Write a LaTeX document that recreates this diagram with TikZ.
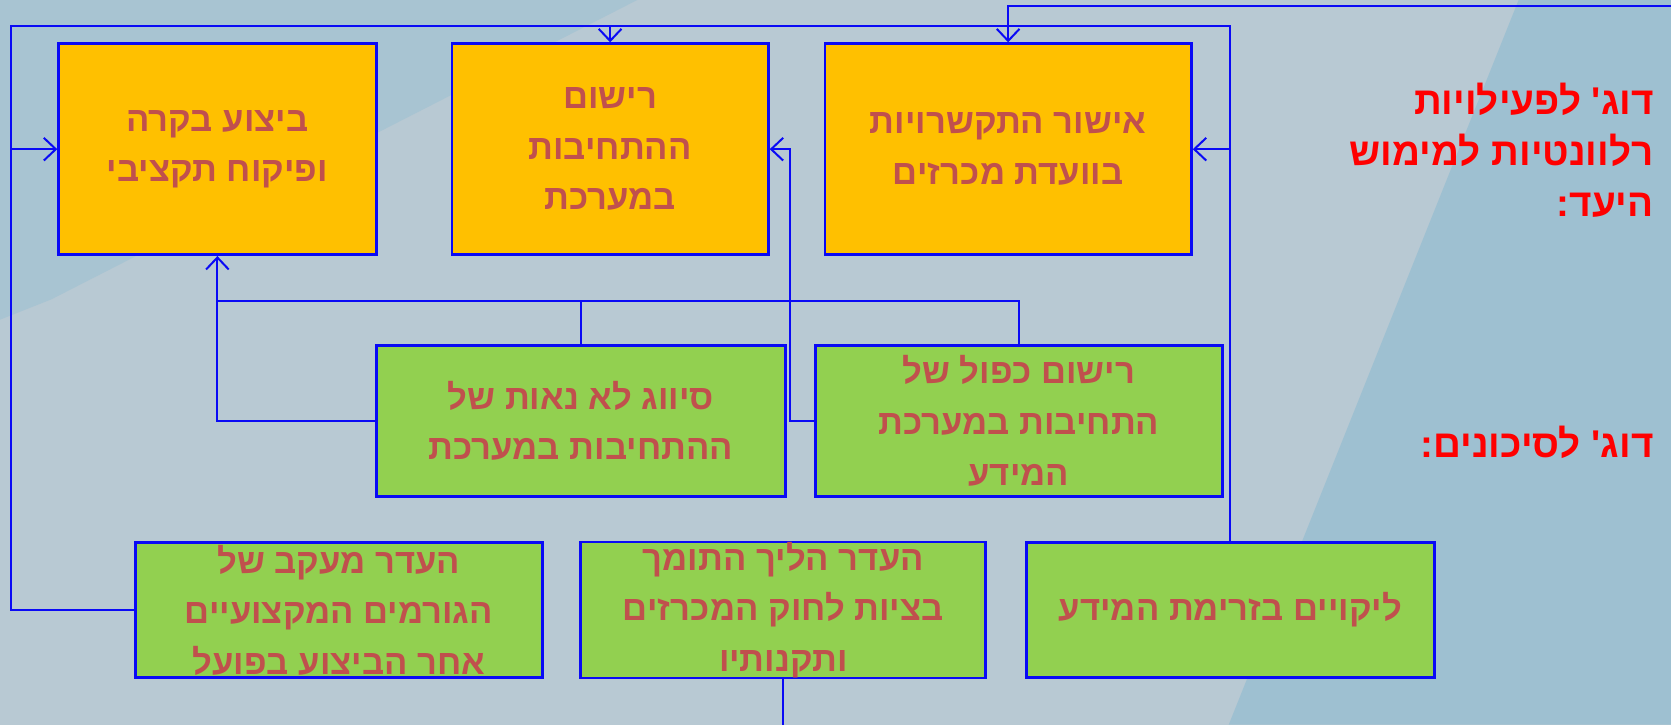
\documentclass[tikz,border=0pt]{standalone}
\usepackage{fontspec}
\setmainfont{Liberation Sans}
\newfontfamily\hebfont[Script=Hebrew]{Liberation Sans}
\TeXXeTstate=1
\usetikzlibrary{arrows.meta, calc, positioning}
\usepackage{xcolor}
\definecolor{boxorange}{HTML}{FFC000}
\definecolor{boxgreen}{HTML}{92D050}
\definecolor{boxtext}{HTML}{C0504D}
\definecolor{linkblue}{HTML}{0A0AF5}
\definecolor{bgmid}{HTML}{B8C9D3}
\definecolor{bgblue}{HTML}{9EC0D1}
\tikzstyle{arrow} = [draw=linkblue, line width=1.5pt, -{Straight Barb[length=9pt,width=17pt]}]
\def\pxu{0.7993pt}
\tikzset{
  box/.style = {
    draw       = linkblue,
    line width = 2pt,
    inner sep  = 0pt,
    align      = center,
    text       = boxtext,
    font       = \hebfont\bfseries\fontsize{26}{38}\selectfont
  },
  aim/.style     = {box, fill = boxorange, minimum height = 198*\pxu},
  midrisk/.style = {box, fill = boxgreen, minimum height = 142*\pxu},
  lowrisk/.style = {box, fill = boxgreen, minimum height = 127*\pxu},
  link/.style    = {draw = linkblue, line width = 1.5pt},
  heading/.style = {text = red, align = right, inner sep = 0pt, anchor = north east,
                    font = \hebfont\bfseries\fontsize{29}{38}\selectfont}
}

\begin{document}
\begin{tikzpicture}[x=0.7993pt, y=-0.7993pt]

% Background
\useasboundingbox (0,0) rectangle (1568,680);
\fill[bgmid] (0,0) rectangle (1568,680);
\fill[bgblue!60!bgmid] (0,0) -- (598,0) -- (48,281) -- (0,300) -- cycle;
\fill[bgblue] (1425,0) -- (1568,0) -- (1568,680) -- (1153,680) -- cycle;

% Activities (orange)
\node[aim, minimum width=298*\pxu] (exec) at (204,140)
  {\beginR ביצוע בקרה\endR\\\beginR ופיקוח תקציבי\endR};
\node[aim, minimum width=297*\pxu] (record) at (572.5,140)
  {\beginR רישום\endR\\\beginR ההתחיבות\endR\\\beginR במערכת\endR};
\node[aim, minimum width=344*\pxu] (approve) at (946,140)
  {\beginR אישור התקשרויות\endR\\\beginR בוועדת מכרזים\endR};

% Risks, middle row (green)
\node[midrisk, minimum width=384*\pxu] (classify) at (545,395)
  {\beginR סיווג לא נאות של\endR\\\beginR ההתחיבות במערכת\endR};
\node[midrisk, minimum width=382*\pxu] (double) at (956,395)
  {\beginR רישום כפול של\endR\\\beginR התחיבות במערכת\endR\\\beginR המידע\endR};

% Risks, bottom row (green)
\node[lowrisk, minimum width=382*\pxu] (follow) at (318,572.5)
  {\beginR העדר מעקב של\endR\\\beginR הגורמים המקצועיים\endR\\\beginR אחר הביצוע בפועל\endR};
\node[lowrisk, minimum width=380*\pxu] (law) at (735,572.5)
  {\beginR העדר הליך התומך\endR\\\beginR בציות לחוק המכרזים\endR\\\beginR ותקנותיו\endR};
\node[lowrisk, minimum width=383*\pxu] (flow) at (1154.5,572.5)
  {\beginR ליקויים בזרימת המידע\endR};

% Outer loop
\coordinate (loopnw) at (10,24);
\draw[link] (follow.west) -| (loopnw) -| (flow.north);
\draw[arrow] (loopnw |- exec.west) -- (exec.west);
\draw[arrow] (record.north |- loopnw) -- (record.north);
\draw[arrow] (flow.north |- approve.east) -- (approve.east);

% Feed from the right
\coordinate (feed) at (1568,6);
\draw[arrow] (feed) -| (approve.north);

% Middle row links
\coordinate (hub) at (204,282);
\draw[arrow] (classify.west) -| (exec.south);
\draw[link] (classify.north) -- (classify.north |- hub);
\draw[link] (double.north) |- (hub);
\draw[arrow] (double.west) -- ++(-22,0) |- (record.east);

% Link down from the bottom row
\coordinate (down) at (735,680);
\draw[link] (law.south) -- (down);

% Headings
\node[heading] (acts) at (1552,78)
  {\beginR דוג' לפעילויות\endR\\\beginR רלוונטיות למימוש\endR\\\beginR היעד:\endR};
\node[heading] (risks) at (1552,400) {\beginR דוג' לסיכונים:\endR};

\end{tikzpicture}
\end{document}
